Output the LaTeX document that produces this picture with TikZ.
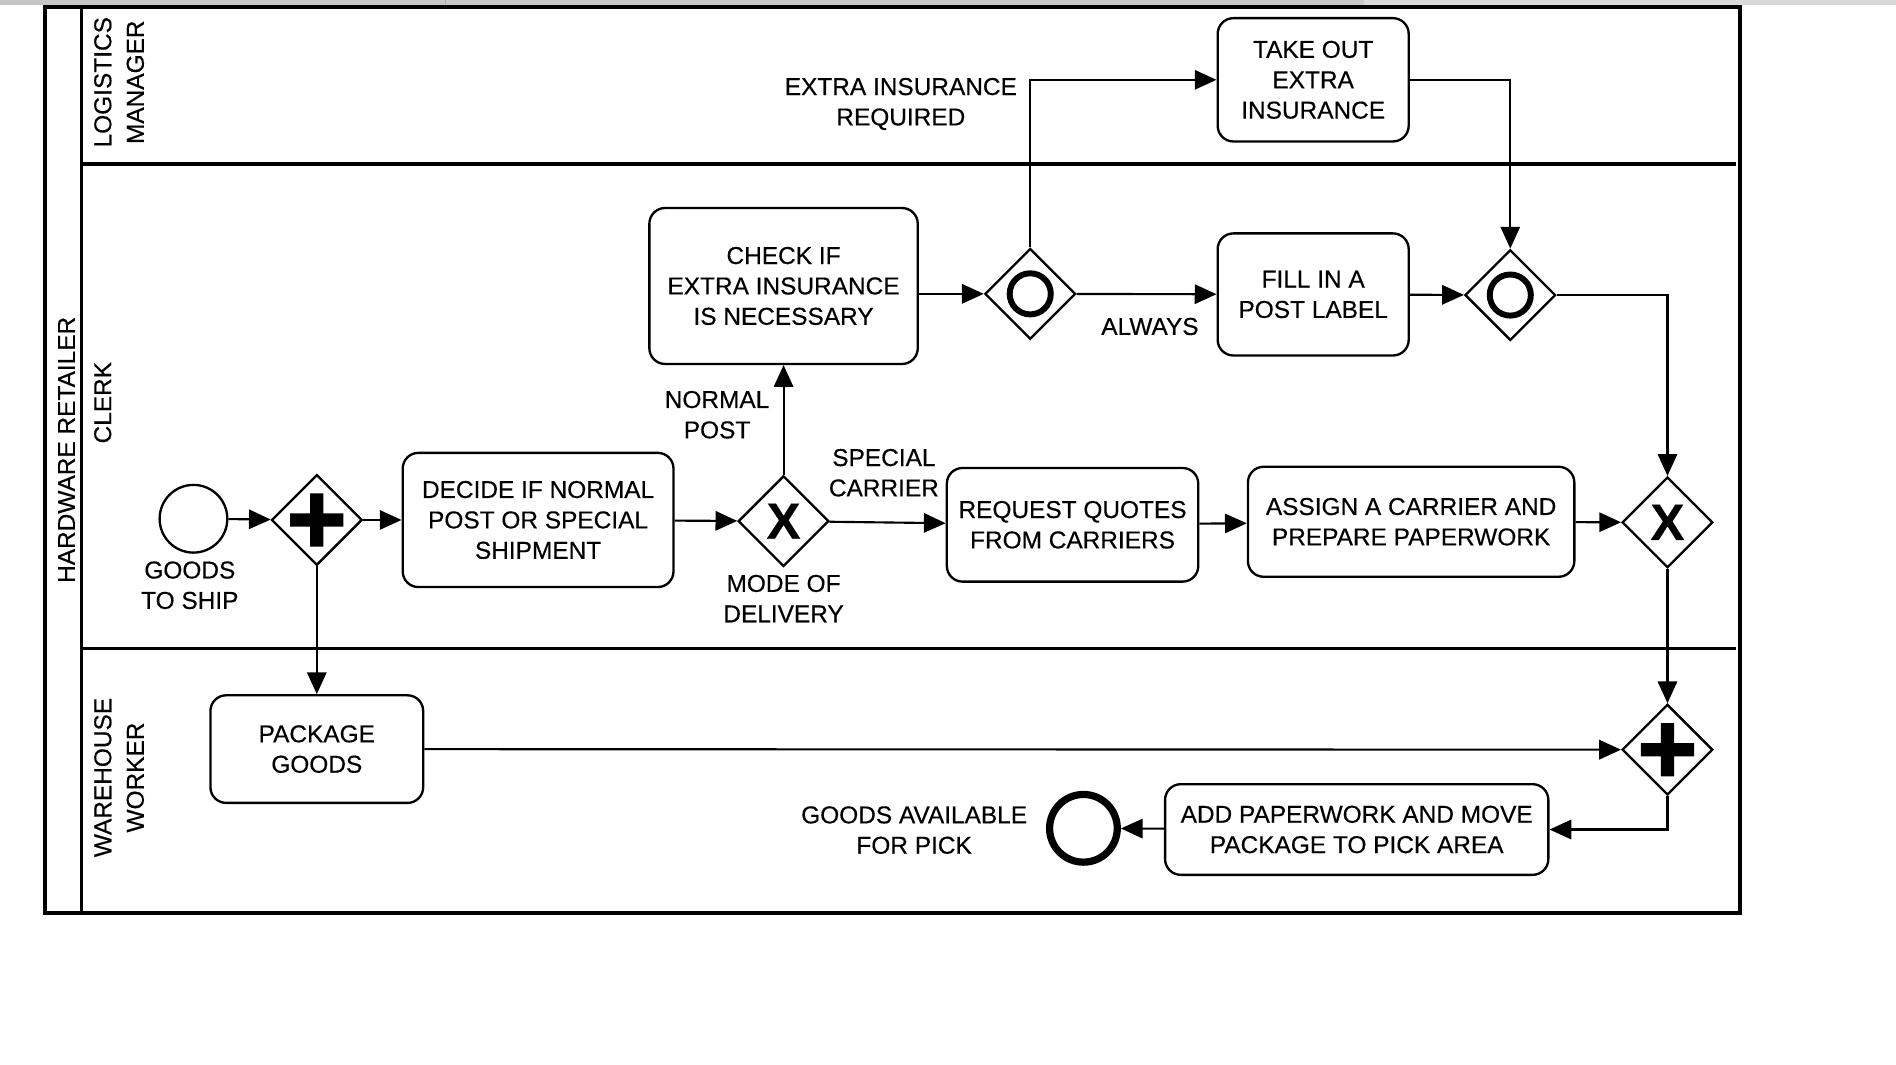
\documentclass[tikz,border=0pt]{standalone}
\usepackage{fontspec}
\setmainfont{Liberation Sans}[FakeBold=0.4]
\usetikzlibrary{arrows.meta,shapes.geometric}

\begin{document}
\begin{tikzpicture}[x=0.02cm,y=-0.02cm,
  font=\fontsize{11.5}{14.3}\selectfont,
  task/.style={draw,line width=1.1pt,rounded corners=0.26cm,align=center,inner sep=2pt},
  gateway/.style={draw,diamond,line width=1.1pt,minimum size=1.5cm,inner sep=0pt},
  xorgw/.style={gateway,font=\fontsize{24}{24}\selectfont\bfseries},
  pargw/.style={gateway,path picture={\fill[shift={(path picture bounding box.center)}] (-22,-5.5) rectangle (22,5.5) (-5.5,-22) rectangle (5.5,22);}},
  orgw/.style={gateway,path picture={\draw[line width=2.8pt] (path picture bounding box.center) circle (0.34cm);}},
  flow/.style={line width=1pt,-{Triangle[length=0.36cm,width=0.32cm]}},
  lbl/.style={align=center},
  lane/.style={line width=1.6pt},
  lanelbl/.style={align=center,rotate=90,font=\fontsize{11.5}{15.3}\selectfont}]
  \useasboundingbox (0,0) rectangle (1568,880);
  % window strip on top
  \fill[gray!45] (0,0) rectangle (1128,4);
  \fill[gray!30] (1128,0) rectangle (1568,4);
  \draw[gray!65] (368,0) -- (368,4);
  % pool and lanes
  \draw[line width=1.9pt] (37,6) rectangle (1439,755);
  \draw[lane] (67.5,6) -- (67.5,755);
  \draw[lane] (67.5,135.6) -- (1436,135.6);
  \draw[lane] (67.5,536.5) -- (1436,536.5);
  \node[lanelbl] (pool) at (55,372) {HARDWARE RETAILER};
  \node[lanelbl] (manager) at (98.5,68) {LOGISTICS\\MANAGER};
  \node[lanelbl] (clerk) at (85,333) {CLERK};
  \node[lanelbl] (worker) at (98.5,643) {WAREHOUSE\\WORKER};

  % clerk row
  \node[circle,draw,line width=1.1pt,minimum size=1.12cm,inner sep=0pt] (start) at (160,429) {};
  \node[lbl] (startlbl) at (157,484) {GOODS\\TO SHIP};
  \node[pargw] (fork) at (262,430) {};
  \node[task,minimum width=4.48cm,minimum height=2.22cm] (decide) at (445,430) {DECIDE IF NORMAL\\POST OR SPECIAL\\SHIPMENT};
  \node[xorgw] (mode) at (648,431) {X};
  \node[lbl] (modelbl) at (648,495) {MODE OF\\DELIVERY};
  \node[lbl] (normallbl) at (593,343) {NORMAL\\POST};
  \node[lbl] (speciallbl) at (731,391) {SPECIAL\\CARRIER};
  \node[task,minimum width=4.16cm,minimum height=1.88cm] (quotes) at (887,434) {REQUEST QUOTES\\FROM CARRIERS};
  \node[task,minimum width=5.4cm,minimum height=1.82cm] (assign) at (1167,431.5) {ASSIGN A CARRIER AND\\PREPARE PAPERWORK};
  \node[xorgw] (choice) at (1379,432) {X};

  % insurance branch
  \node[task,minimum width=4.44cm,minimum height=2.58cm] (check) at (648,236.5) {CHECK IF\\EXTRA INSURANCE\\IS NECESSARY};
  \node[orgw] (insure) at (852,243) {};
  \node[lbl] (extralbl) at (745,86) {EXTRA INSURANCE\\REQUIRED};
  \node[task,minimum width=3.16cm,minimum height=2.04cm] (takeout) at (1086,66) {TAKE OUT\\EXTRA\\INSURANCE};
  \node[task,minimum width=3.16cm,minimum height=2.02cm] (fill) at (1086,243.5) {FILL IN A\\POST LABEL};
  \node[lbl] (alwayslbl) at (951,270) {ALWAYS};
  \node[orgw] (merge) at (1249,244) {};

  % warehouse row
  \node[task,minimum width=3.52cm,minimum height=1.78cm] (package) at (262,619.5) {PACKAGE\\GOODS};
  \node[pargw] (join) at (1379,620) {};
  \node[task,minimum width=6.34cm,minimum height=1.5cm] (paperwork) at (1122,686) {ADD PAPERWORK AND MOVE\\PACKAGE TO PICK AREA};
  \node[circle,draw,line width=3.4pt,minimum size=1.12cm,inner sep=0pt] (finish) at (896,685) {};
  \node[lbl] (finishlbl) at (756,686.5) {GOODS AVAILABLE\\FOR PICK};

  % flows
  \draw[flow] (start) -- (fork);
  \draw[flow] (fork) -- (decide);
  \draw[flow] (decide) -- (mode);
  \draw[flow] (mode) -- (check);
  \draw[flow] (mode) -- (quotes);
  \draw[flow] (check.east |- insure) -- (insure);
  \draw[flow] (insure) |- (takeout);
  \draw[flow] (insure) -- (fill);
  \draw[flow] (fill) -- (merge);
  \draw[flow] (takeout) -| (merge);
  \draw[flow] (merge) -| (choice);
  \draw[flow] (quotes) -- (assign);
  \draw[flow] (assign) -- (choice);
  \draw[flow] (choice) -- (join);
  \draw[flow] (fork) -- (package);
  \draw[flow] (package) -- (join);
  \draw[flow] (join) |- (paperwork);
  \draw[flow] (paperwork) -- (finish);
\end{tikzpicture}
\end{document}
